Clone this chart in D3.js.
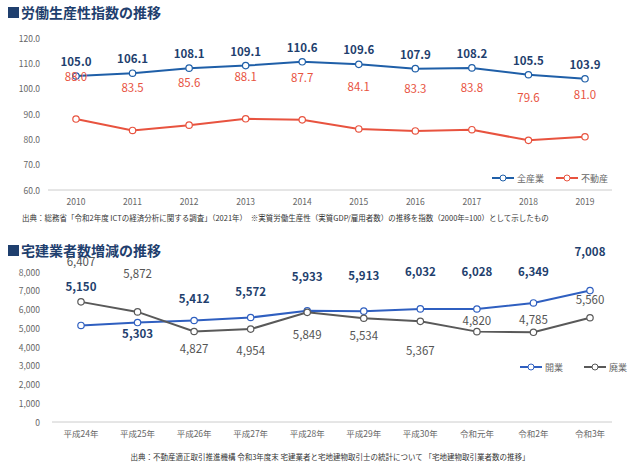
<!DOCTYPE html>
<html><head><meta charset="utf-8">
<script src="https://cdn.jsdelivr.net/npm/d3@7"></script>
<style>body{margin:0;background:#fff;font-family:"Noto Sans CJK JP","Noto Sans",sans-serif}</style>
</head><body><svg width="635" height="473"></svg>
<script>
// data
const years = ['2010','2011','2012','2013','2014','2015','2016','2017','2018','2019'];
const allIndustry = [105.0,106.1,108.1,109.1,110.6,109.6,107.9,108.2,105.5,103.9];
const realEstate = [88.0,83.5,85.6,88.1,87.7,84.1,83.3,83.8,79.6,81.0];
const eras = ['平成24年','平成25年','平成26年','平成27年','平成28年','平成29年','平成30年','令和元年','令和2年','令和3年'];
const opened = [5150,5303,5412,5572,5933,5913,6032,6028,6349,7008];
const closed = [6407,5872,4827,4954,5849,5534,5367,4820,4785,5560];

// value label offsets from the point (label baseline)
const openedDy = [-34,15,-18,-22,-30,-31,-33,-33,-27,-35];
const closedDy = [-36,-34,22,26,27,22,34,-7,-8,-14];

const svg = d3.select('svg');

function title(y, text) {
    svg.append('rect').attr('x', 8).attr('y', y - 11).attr('width', 11).attr('height', 11).attr('fill', '#1f3f6e');
    svg.append('text').attr('x', 21).attr('y', y).attr('font-size', 14).attr('font-weight', 'bold')
        .attr('fill', '#1f3f6e').text(text);
}

function drawChart(o) {
    const x = d3.scalePoint().domain(o.cats).range([o.x0, o.x1]);
    const y = d3.scaleLinear().domain(o.domain).range([o.yb, o.yt]);
    const g = svg.append('g');
    // y tick labels
    o.ticks.forEach(function(t) {
        g.append('text').attr('x', o.labelX).attr('y', y(t) + 3.5).attr('text-anchor', 'end')
            .attr('font-size', 8.5).attr('fill', '#666').text(o.tickFmt(t));
    });
    g.append('line').attr('x1', o.axisL).attr('x2', o.axisR).attr('y1', y(o.domain[0])).attr('y2', y(o.domain[0]))
        .attr('stroke', '#ccc');
    o.cats.forEach(function(c) {
        g.append('text').attr('x', x(c)).attr('y', o.yb + 15).attr('text-anchor', 'middle')
            .attr('font-size', 8.5).attr('fill', '#666').text(c);
    });
    const line = d3.line().x(function(d, i) { return x(o.cats[i]); }).y(function(d) { return y(d); });
    o.series.forEach(function(s) {
        g.append('path').datum(s.values).attr('d', line).attr('fill', 'none')
            .attr('stroke', s.color).attr('stroke-width', 2);
        s.values.forEach(function(v, i) {
            g.append('circle').attr('cx', x(o.cats[i])).attr('cy', y(v)).attr('r', 3.2)
                .attr('fill', '#fff').attr('stroke', s.color).attr('stroke-width', 1.2);
            const dy = s.dy ? s.dy[i] : s.offset;
            g.append('text').attr('x', x(o.cats[i])).attr('y', y(v) + dy)
                .attr('text-anchor', 'middle').attr('font-size', 11.5).attr('font-weight', s.bold ? 'bold' : 'normal')
                .attr('fill', s.labelColor).text(o.valFmt(v));
        });
    });
    // legend
    let lx = o.legendX;
    o.series.forEach(function(s) {
        g.append('line').attr('x1', lx).attr('x2', lx + 22).attr('y1', o.legendY).attr('y2', o.legendY)
            .attr('stroke', s.color).attr('stroke-width', 2);
        g.append('circle').attr('cx', lx + 11).attr('cy', o.legendY).attr('r', 3)
            .attr('fill', '#fff').attr('stroke', s.color);
        g.append('text').attr('x', lx + 25).attr('y', o.legendY + 3.5).attr('font-size', 9)
            .attr('fill', '#666').text(s.name);
        lx += 64;
    });
}

title(18, '労働生産性指数の推移');
drawChart({
    cats: years, domain: [60, 120], ticks: d3.range(60, 121, 10), tickFmt: d3.format('.1f'), valFmt: d3.format('.1f'),
    x0: 76, x1: 585, yb: 190, yt: 38, labelX: 40, axisL: 48, axisR: 612,
    legendX: 492, legendY: 178,
    series: [
        { name: '全産業', values: allIndustry, color: '#1f5fa8', labelColor: '#1f3f6e', bold: true, offset: -10 },
        { name: '不動産', values: realEstate, color: '#e8533f', labelColor: '#e8533f', bold: false, offset: -38 }
    ]
});
svg.append('text').attr('x', 22).attr('y', 221).attr('font-size', 7.5).attr('fill', '#333')
    .text('出典：総務省「令和2年度 ICTの経済分析に関する調査」（2021年）　※実質労働生産性（実質GDP/雇用者数）の推移を指数（2000年=100）として示したもの');

title(256, '宅建業者数増減の推移');
drawChart({
    cats: eras, domain: [0, 8000], ticks: d3.range(0, 8001, 1000), tickFmt: d3.format(','), valFmt: d3.format(','),
    x0: 81, x1: 590, yb: 422, yt: 272, labelX: 40, axisL: 52, axisR: 612,
    legendX: 520, legendY: 367,
    series: [
        { name: '開業', values: opened, color: '#2f5fc0', labelColor: '#1f3f6e', bold: true, dy: openedDy },
        { name: '廃業', values: closed, color: '#595959', labelColor: '#555', bold: false, dy: closedDy }
    ]
});
svg.append('text').attr('x', 330).attr('y', 460).attr('text-anchor', 'middle').attr('font-size', 7.5).attr('fill', '#333')
    .text('出典：不動産適正取引推進機構 令和3年度末 宅建業者と宅地建物取引士の統計について 「宅地建物取引業者数の推移」');
</script></body></html>
